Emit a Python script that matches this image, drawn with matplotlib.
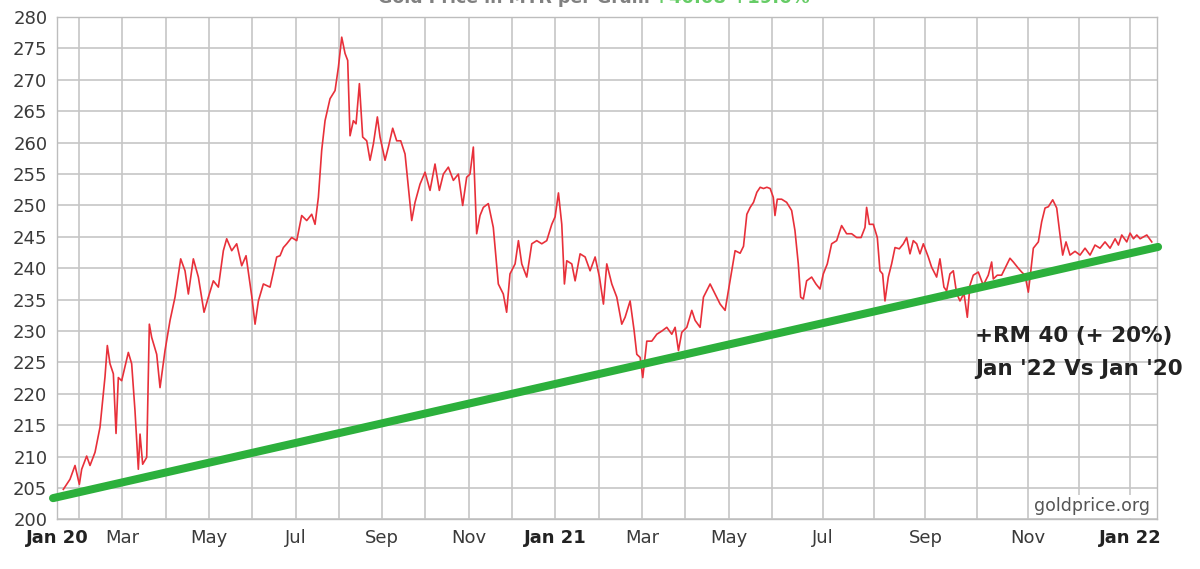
import numpy as np
import matplotlib
matplotlib.use("Agg")
import matplotlib.pyplot as plt

# ---- data (x in months since 1 Jan 2020, y in MYR per gram) ----
price_months = [
    0.638, 0.792, 0.908, 1.008, 1.062, 1.177, 1.254, 1.370, 1.485, 1.600,
    1.654, 1.716, 1.793, 1.855, 1.908, 1.985, 2.139, 2.216, 2.293, 2.370,
    2.409, 2.470, 2.563, 2.624, 2.678, 2.794, 2.871, 2.986, 3.102, 3.217,
    3.348, 3.448, 3.525, 3.640, 3.756, 3.887, 3.987, 4.102, 4.218, 4.333,
    4.410, 4.526, 4.641, 4.757, 4.857, 4.988, 5.065, 5.142, 5.257, 5.411,
    5.565, 5.642, 5.719, 5.796, 5.911, 6.027, 6.142, 6.258, 6.373, 6.450,
    6.527, 6.604, 6.681, 6.796, 6.912, 6.989, 7.066, 7.143, 7.204, 7.258,
    7.335, 7.397, 7.474, 7.550, 7.643, 7.720, 7.797, 7.889, 7.951, 8.066,
    8.143, 8.243, 8.335, 8.428, 8.528, 8.605, 8.682, 8.759, 8.874, 8.990,
    9.105, 9.220, 9.320, 9.413, 9.528, 9.644, 9.759, 9.859, 9.951, 10.028,
    10.105, 10.182, 10.259, 10.336, 10.451, 10.566, 10.682, 10.797, 10.874, 10.951,
    11.069, 11.146, 11.223, 11.338, 11.454, 11.569, 11.685, 11.800, 11.916, 11.993,
    12.070, 12.147, 12.208, 12.262, 12.378, 12.455, 12.570, 12.686, 12.801, 12.917,
    13.017, 13.109, 13.186, 13.302, 13.417, 13.532, 13.609, 13.725, 13.817, 13.879,
    13.956, 14.017, 14.110, 14.225, 14.341, 14.456, 14.572, 14.687, 14.764, 14.841,
    14.918, 15.034, 15.149, 15.226, 15.341, 15.418, 15.572, 15.688, 15.803, 15.918,
    15.995, 16.072, 16.149, 16.265, 16.343, 16.420, 16.497, 16.574, 16.651, 16.728,
    16.805, 16.882, 16.959, 17.026, 17.059, 17.104, 17.189, 17.287, 17.385, 17.450,
    17.515, 17.561, 17.613, 17.678, 17.776, 17.860, 17.939, 18.004, 18.082, 18.167,
    18.265, 18.362, 18.460, 18.558, 18.656, 18.743, 18.819, 18.851, 18.904, 18.982,
    19.060, 19.112, 19.164, 19.210, 19.275, 19.340, 19.406, 19.490, 19.569, 19.634,
    19.699, 19.764, 19.830, 19.894, 19.960, 20.057, 20.121, 20.220, 20.285, 20.363,
    20.415, 20.480, 20.546, 20.611, 20.677, 20.755, 20.820, 20.872, 20.937, 21.035,
    21.132, 21.230, 21.296, 21.328, 21.406, 21.491, 21.589, 21.654, 21.720, 21.818,
    21.883, 21.948, 22.013, 22.059, 22.111, 22.209, 22.274, 22.340, 22.405, 22.490,
    22.568, 22.633, 22.685, 22.750, 22.828, 22.926, 23.024, 23.122, 23.220, 23.317,
    23.415, 23.513, 23.611, 23.710, 23.775, 23.840, 23.938, 24.003, 24.069, 24.134,
    24.199, 24.330, 24.427,
]
price_values = [
    204.8, 206.4, 208.6, 205.6, 208.0, 210.1, 208.6, 210.7, 214.7, 222.7,
    227.7, 224.8, 223.2, 213.7, 222.6, 222.1, 226.6, 224.8, 217.3, 208.0,
    213.6, 208.8, 209.9, 231.1, 229.0, 226.3, 221.0, 226.9, 231.7, 235.4,
    241.5, 239.6, 235.9, 241.5, 238.6, 233.0, 235.4, 238.0, 237.0, 242.8,
    244.7, 242.8, 243.9, 240.4, 242.0, 235.6, 231.1, 234.8, 237.5, 237.0,
    241.8, 242.0, 243.3, 243.9, 244.9, 244.4, 248.4, 247.6, 248.6, 247.0,
    251.3, 258.8, 263.5, 267.0, 268.3, 272.0, 276.8, 274.2, 273.1, 261.1,
    263.5, 263.0, 269.4, 260.9, 260.3, 257.2, 259.8, 264.1, 260.9, 257.2,
    259.3, 262.3, 260.3, 260.3, 258.2, 252.9, 247.6, 250.5, 253.4, 255.3,
    252.4, 256.6, 252.4, 255.0, 256.1, 254.0, 255.0, 250.0, 254.5, 255.0,
    259.3, 245.5, 248.4, 249.7, 250.3, 246.5, 237.5, 235.9, 233.0, 239.1,
    240.7, 244.4, 240.7, 238.6, 243.9, 244.4, 243.9, 244.4, 247.0, 248.2,
    252.0, 247.0, 237.5, 241.2, 240.7, 238.0, 242.3, 241.8, 239.6, 241.8,
    238.6, 234.3, 240.7, 237.5, 235.4, 231.1, 232.2, 234.8, 230.1, 226.3,
    225.8, 222.6, 228.4, 228.4, 229.5, 230.0, 230.6, 229.5, 230.6, 226.9,
    229.8, 230.6, 233.3, 231.7, 230.6, 235.4, 237.5, 235.9, 234.3, 233.3,
    236.5, 239.6, 242.8, 242.4, 243.5, 248.6, 249.7, 250.5, 252.1, 252.9,
    252.7, 252.9, 252.7, 251.3, 248.4, 251.0, 251.0, 250.5, 249.2, 246.0,
    240.7, 235.4, 235.1, 238.0, 238.6, 237.5, 236.7, 239.1, 240.7, 243.9,
    244.4, 246.8, 245.5, 245.5, 244.9, 244.9, 246.5, 249.7, 247.0, 247.0,
    244.9, 239.6, 239.1, 234.8, 238.6, 240.7, 243.3, 243.1, 243.9, 244.9,
    242.3, 244.4, 243.9, 242.3, 243.9, 241.8, 240.2, 238.6, 241.5, 237.0,
    236.4, 239.1, 239.6, 236.0, 234.8, 236.0, 232.2, 237.3, 238.9, 239.4,
    237.3, 238.9, 241.0, 238.3, 238.9, 238.9, 240.5, 241.6, 241.0, 240.0,
    239.4, 238.9, 236.2, 239.4, 243.2, 244.2, 247.4, 249.6, 249.8, 250.9,
    249.6, 245.3, 242.1, 244.2, 242.1, 242.7, 242.1, 243.2, 242.1, 243.7,
    243.2, 244.2, 243.2, 244.7, 243.7, 245.3, 244.2, 245.6, 244.7, 245.3,
    244.7, 245.3, 244.2,
]

trend_months = [0.40, 24.55]
trend_values = [203.4, 243.4]

tick_months = [0.492, 2, 4, 6, 8, 10, 12, 14, 16, 18, 20, 22, 24]
tick_labels = ["Jan 20", "Mar", "May", "Jul", "Sep", "Nov", "Jan 21",
               "Mar", "May", "Jul", "Sep", "Nov", "Jan 22"]
bold_labels = {"Jan 20", "Jan 21", "Jan 22"}
y_ticks = list(range(200, 281, 5))

annotation_lines = ["+RM 40 (+ 20%)", "Jan '22 Vs Jan '20"]
title_left = "Gold Price in MYR per Gram"
title_right = "+40.08 +19.6%"

# ---- horizontal scale of the source image (month spacing widens after Jun 2021) ----
def fwd(x):
    x = np.asarray(x, dtype=float)
    return np.where(x < 17, (x - 17) * 43.31, (x - 17) * 51.14)

def inv(y):
    y = np.asarray(y, dtype=float)
    return np.where(y < 0, y / 43.31 + 17, y / 51.14 + 17)

fig = plt.figure(figsize=(12, 5.69), dpi=100)
ax = fig.add_axes([0.0475, 0.087, 0.9167, 0.883])
ax.set_xscale("function", functions=(fwd, inv))
ax.set_xlim(0.492, 24.53)
ax.set_ylim(200, 280)

grid_c = "#c6c6c6"
ax.set_xticks(tick_months)
ax.set_xticklabels(tick_labels)
ax.set_xticks(list(range(1, 25)), minor=True)
ax.set_yticks(y_ticks)
ax.grid(True, which="both", axis="x", color=grid_c, lw=1.2)
ax.grid(True, which="major", axis="y", color=grid_c, lw=1.2)
ax.set_axisbelow(True)
ax.tick_params(axis="both", which="both", length=0)
ax.tick_params(axis="y", pad=7, labelsize=13, labelcolor="#3a3a3a")
ax.tick_params(axis="x", pad=7, labelsize=13, labelcolor="#3a3a3a")
for lbl in ax.get_xticklabels():
    if lbl.get_text() in bold_labels:
        lbl.set_fontweight("bold")
        lbl.set_color("#222222")
for sp in ax.spines.values():
    sp.set_color("#bdbdbd")
    sp.set_linewidth(1.0)

ax.plot(price_months, price_values, color="#e8303a", lw=1.2, zorder=3)
ax.plot(trend_months, trend_values, color="#2cb03c", lw=5.8,
        solid_capstyle="round", zorder=4, clip_on=False)

ax.text(20.97, 229.2, annotation_lines[0], family="DejaVu Sans", fontweight="bold",
        fontsize=15.5, color="#222222", va="center", ha="left", zorder=5,
        clip_on=False)
ax.text(20.97, 223.9, annotation_lines[1], family="DejaVu Sans", fontweight="bold",
        fontsize=15.5, color="#222222", va="center", ha="left", zorder=5,
        clip_on=False)

ax.text(0.9936, 0.016, "goldprice.org", transform=ax.transAxes, ha="right",
        va="baseline", fontsize=12.5, color="#555555", zorder=5,
        bbox=dict(facecolor="white", edgecolor="none", pad=1.5))

# title, mostly cut off at the top edge of the source image
fig.text(0.315, 0.9956, title_left, ha="left", va="baseline",
         fontsize=12.5, fontweight="bold", color="#808080")
fig.text(0.545, 0.9956, title_right, ha="left", va="baseline",
         fontsize=13, fontweight="bold", color="#66cc66")

fig.savefig("out.png", dpi=100)
